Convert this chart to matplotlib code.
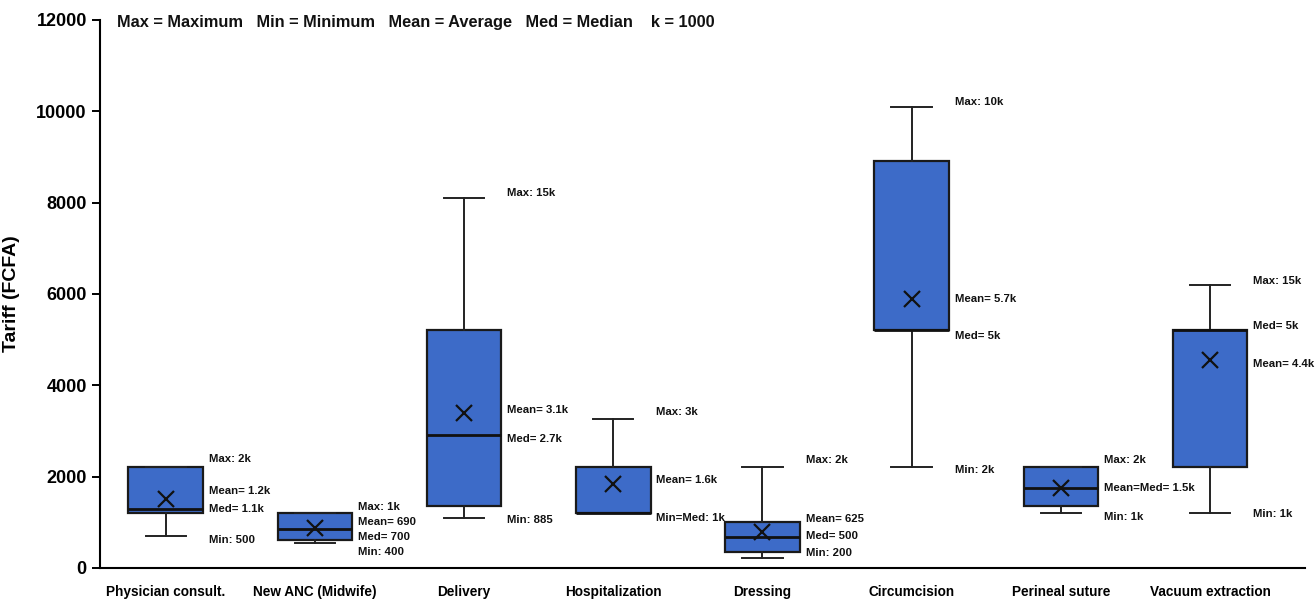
import numpy as np
import matplotlib.pyplot as plt

categories = ["Physician consult.", "New ANC (Midwife)", "Delivery", "Hospitalization",
              "Dressing", "Circumcision", "Perineal suture", "Vacuum extraction"]
whisker_low = [700, 550, 1100, 1200, 220, 2200, 1200, 1200]
q1 = [1200, 620, 1350, 1200, 350, 5200, 1350, 2200]
median = [1300, 850, 2900, 1200, 680, 5200, 1750, 5200]
q3 = [2200, 1200, 5200, 2200, 1000, 8900, 2200, 5200]
whisker_high = [2200, 1200, 8100, 3250, 2200, 10100, 2200, 6200]
mean = [1500, 870, 3400, 1840, 790, 5880, 1750, 4550]

# annotation texts with their y positions (data units)
notes = [
    [("Max: 2k", 2390), ("Mean= 1.2k", 1690), ("Med= 1.1k", 1290), ("Min: 500", 610)],
    [("Max: 1k", 1340), ("Mean= 690", 1010), ("Med= 700", 680), ("Min: 400", 350)],
    [("Max: 15k", 8210), ("Mean= 3.1k", 3460), ("Med= 2.7k", 2830), ("Min: 885", 1050)],
    [("Max: 3k", 3420), ("Mean= 1.6k", 1930), ("Min=Med: 1k", 1100)],
    [("Max: 2k", 2370), ("Mean= 625", 1070), ("Med= 500", 700), ("Min: 200", 330)],
    [("Max: 10k", 10200), ("Mean= 5.7k", 5890), ("Med= 5k", 5080), ("Min: 2k", 2150)],
    [("Max: 2k", 2370), ("Mean=Med= 1.5k", 1750), ("Min: 1k", 1120)],
    [("Max: 15k", 6290), ("Med= 5k", 5300), ("Mean= 4.4k", 4470), ("Min: 1k", 1180)],
]

header = "Max = Maximum   Min = Minimum   Mean = Average   Med = Median    k = 1000"

plt.rcParams["font.family"] = ["Liberation Sans", "DejaVu Sans"]

fig = plt.figure(figsize=(13.16, 6.01), dpi=100)
ax = fig.add_axes([0.076, 0.055, 0.916, 0.912])

stats = []
for i in range(len(categories)):
    stats.append(dict(label=categories[i], whislo=whisker_low[i], q1=q1[i], med=median[i],
                      q3=q3[i], whishi=whisker_high[i], mean=mean[i], fliers=[]))

pos = np.arange(len(categories))
ax.bxp(stats, positions=pos, widths=0.5, patch_artist=True, showmeans=True,
       boxprops=dict(facecolor="#3D6BC8", edgecolor="#1a1a1a", linewidth=1.6),
       medianprops=dict(color="#111111", linewidth=2),
       whiskerprops=dict(color="#222222", linewidth=1.4),
       capprops=dict(color="#222222", linewidth=1.4),
       capwidths=0.27,
       meanprops=dict(marker="x", markersize=11, markeredgecolor="#111111",
                      markeredgewidth=1.6))

for i, group in enumerate(notes):
    for txt, yv in group:
        ax.text(pos[i] + 0.29, yv, txt, fontsize=8.2, fontweight="bold",
                va="center", ha="left", color="#111111")

ax.text(0.014, 0.995, header, transform=ax.transAxes, fontsize=11.8, fontweight="bold",
        va="center", ha="left", color="#111111")

ax.set_xlim(-0.44, 7.64)
ax.set_ylim(0, 12000)
ax.set_yticks(np.arange(0, 12001, 2000))
ax.set_xticks(pos)
ax.set_xticklabels(categories, fontsize=9.8, fontweight="bold")
ax.tick_params(axis="x", length=0, pad=12)
ax.tick_params(axis="y", length=6, width=1.4, labelsize=13, direction="out")
for lab in ax.get_yticklabels():
    lab.set_fontweight("bold")
ax.set_ylabel("Tariff (FCFA)", fontsize=14, fontweight="bold", labelpad=12)

ax.spines["top"].set_visible(False)
ax.spines["right"].set_visible(False)
ax.spines["left"].set_linewidth(1.5)
ax.spines["bottom"].set_linewidth(1.5)

fig.savefig("out.png", dpi=100)
